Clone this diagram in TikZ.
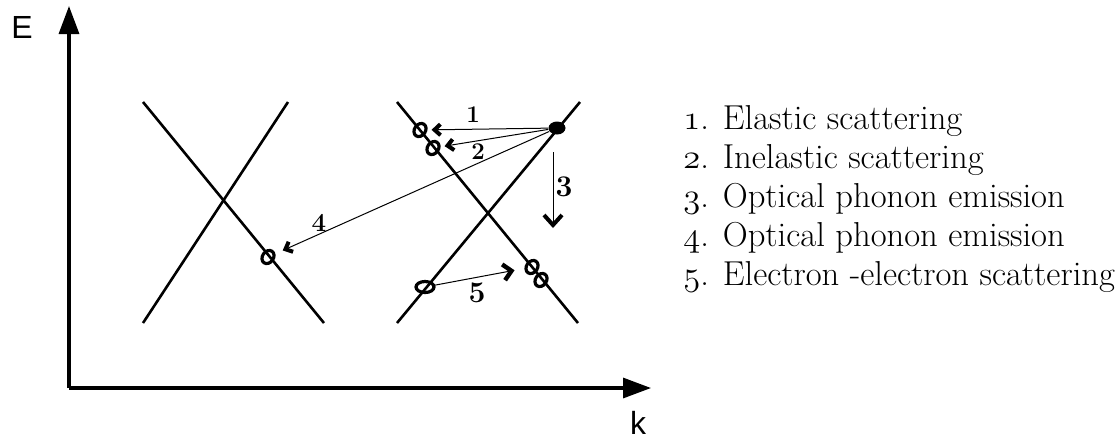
\documentclass[tikz,border=0pt]{standalone}
\usepackage{fontspec}
\newfontfamily\axisfont{Liberation Sans}
\newcommand\onum[1]{{\usefont{OML}{cmm}{m}{it}#1}}
\usetikzlibrary{arrows.meta,shapes.geometric}

\begin{document}
\begin{tikzpicture}[
  x=0.5pt, y=-0.5pt,
  band/.style = {line width=1.3pt},
  axis/.style = {line width=1.6pt, -{Triangle[length=14pt,width=10pt]}},
  hot/.style  = {fill, ellipse, minimum width=8.5pt, minimum height=6.5pt, inner sep=0pt},
  hole/.style = {draw, ellipse, line width=1.6pt, minimum width=5.5pt,
                 minimum height=7pt, inner sep=0pt},
  hop/.style  = {line width=0.5pt, shorten >=2pt,
                 -{Straight Barb[length=3pt,width=5.5pt,line width=2pt]}},
  num/.style  = {font=\bfseries\fontsize{12}{14}\selectfont, inner sep=0pt},
  item/.style = {font=\fontsize{17.3}{20}\selectfont, anchor=base west, inner sep=0pt},
  axlabel/.style = {font=\axisfont\fontsize{16}{18}\selectfont, inner sep=0pt},
]
\useasboundingbox (0,0) rectangle (1118,441);

% ---------- axes ----------
\coordinate (origin) at (69,388);
\coordinate (etop)   at (69,6);
\coordinate (kend)   at (651,388);
\draw[axis] (origin) -- (etop);
\draw[axis] (origin) -- (kend);
\node[axlabel] (elabel) at (22,27)  {E};
\node[axlabel] (klabel) at (638,423) {k};

% ---------- bands ----------
\draw[band] (143,102) -- (324,323);
\draw[band] (288,102) -- (143,323);
\draw[band] (397,102) -- (578,323);
\draw[band] (580,102) -- (397,323);

% ---------- carriers ----------
\node[hot] (hot) at (557,128) {};
\node[hole, rotate=-35] (elast)   at (420,130) {};
\node[hole, rotate=-35] (inelast) at (433,148) {};
\node[hole, rotate=-35] (optic)   at (268,257) {};
\node[hole, minimum width=9pt, minimum height=5.5pt] (ee) at (425,287) {};
\node[hole, rotate=-35] (eea) at (532,267) {};
\node[hole, rotate=-35] (eeb) at (541,280) {};
\coordinate (droptop) at (553,152);
\coordinate (dropbot) at (553,232);

% ---------- transitions ----------
\draw[hop] (hot) -- (elast);
\draw[hop] (hot) -- (inelast);
\draw[hop, shorten >=4pt] (hot) -- (optic);
\draw[hop, -{Straight Barb[length=5pt,width=9pt,line width=2pt]}] (droptop) -- (dropbot);
\draw[hop, shorten >=5pt, -{Straight Barb[length=4pt,width=8pt,line width=2.2pt]}] (ee) -- (eea);

\node[num] (n1) at (473,115) {1};
\node[num] (n2) at (478,152) {2};
\node[num, font=\bfseries\fontsize{15}{17}\selectfont] (n3) at (564,187) {3};
\node[num, font=\bfseries\fontsize{13}{15}\selectfont] (n4) at (319,223) {4};
\node[num, font=\bfseries\fontsize{15}{17}\selectfont] (n5) at (477,293) {5};

% ---------- legend ----------
\foreach \i/\txt in {1/Elastic scattering, 2/Inelastic scattering,
                     3/Optical phonon emission, 4/Optical phonon emission,
                     5/Electron -electron scattering}
  \node[item] (item\i) at (683,{129+39*(\i-1)}) {\onum{\i}. \txt};

\end{tikzpicture}
\end{document}
